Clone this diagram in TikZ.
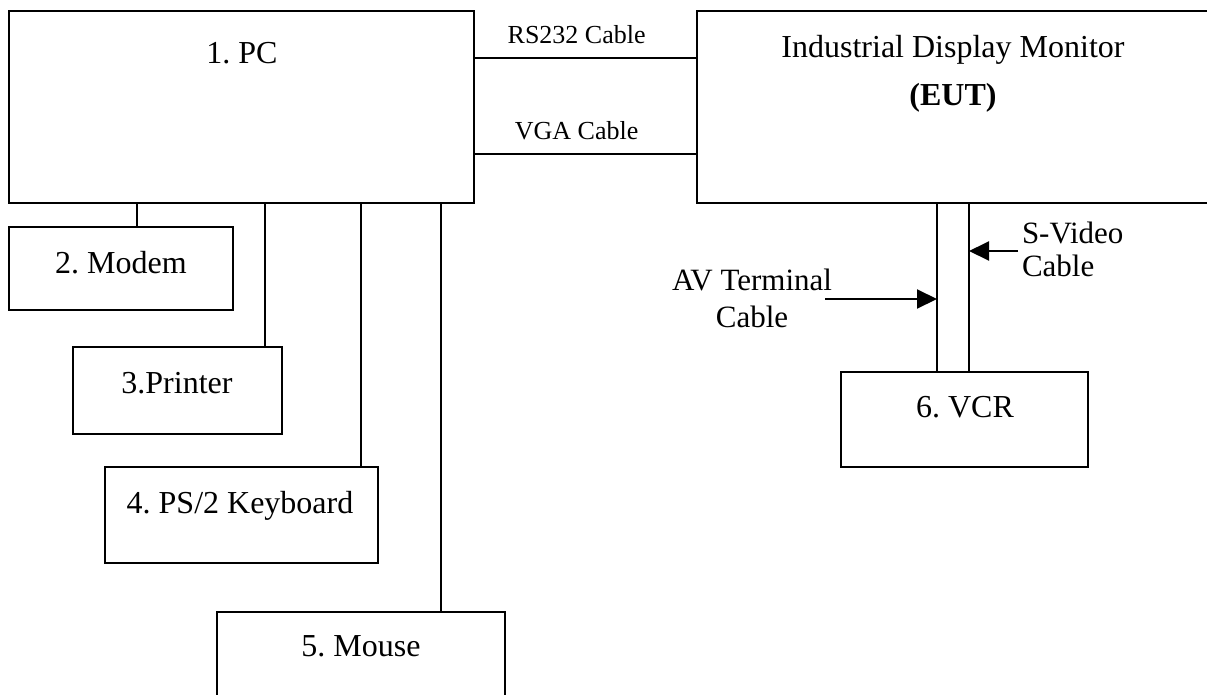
\documentclass[tikz,border=0pt]{standalone}
\usepackage{fontspec}
\setmainfont{Liberation Serif}
\usetikzlibrary{arrows.meta}
\frenchspacing

\begin{document}
\begin{tikzpicture}[x=1pt, y=-1pt, line width=2pt,
    font=\fontsize{32}{38}\selectfont,
    device/.style={draw, rectangle, inner sep=0pt},
    cablelbl/.style={font=\fontsize{26}{30}\selectfont},
    >={Triangle[length=20pt, width=19pt]}]
  \clip (0,0) rectangle (1207,694);
  % units
  \node[device, minimum width=465pt, minimum height=192pt] (pc) at (241.5,107) {};
  \node[device, minimum width=513pt, minimum height=192pt] (mon) at (953.5,107) {};
  \node[device, minimum width=224pt, minimum height=83pt] (modem) at (121,268.5) {};
  \node[device, minimum width=209pt, minimum height=87pt] (printer) at (177.5,390.5) {};
  \node[device, minimum width=273pt, minimum height=96pt] (keyb) at (241.5,515) {};
  \node[device, minimum width=288pt, minimum height=93pt] (mouse) at (361,658.5) {};
  \node[device, minimum width=247pt, minimum height=95pt] (vcr) at (964.5,419.5) {};
  % names
  \node[anchor=base] (pclbl) at (242,63) {1. PC};
  \node[anchor=base] (monlbl) at (953,57) {Industrial Display Monitor};
  \node[anchor=base] (eutlbl) at (953,105) {\textbf{(EUT)}};
  \node[anchor=base] (modemlbl) at (121,273) {2. Modem};
  \node[anchor=base] (printerlbl) at (177,393) {3.Printer};
  \node[anchor=base] (keyblbl) at (240,513) {4. PS/2 Keyboard};
  \node[anchor=base] (mouselbl) at (361,656) {5. Mouse};
  \node[anchor=base] (vcrlbl) at (965,417) {6. VCR};
  % PC to monitor
  \draw ([yshift=-48pt]pc.north east) -- node[cablelbl, above=10pt, pos=.46] (rslbl) {RS232 Cable} ([yshift=-48pt]mon.north west);
  \draw ([yshift=-144pt]pc.north east) -- node[cablelbl, above=10pt, pos=.46] (vgalbl) {VGA Cable} ([yshift=-144pt]mon.north west);
  % PC to peripherals
  \foreach \dev/\dx in {modem/16, printer/87.5, keyb/119.5, mouse/80}
    \draw ([xshift=\dx pt]\dev.north) -- ([xshift=\dx pt]\dev.north |- pc.south);
  % monitor to VCR
  \coordinate (av) at ([xshift=-27.5pt]vcr.north);
  \coordinate (sv) at ([xshift=4.5pt]vcr.north);
  \draw (av) -- (av |- mon.south);
  \draw (sv) -- (sv |- mon.south);
  \node[align=center, inner sep=0pt, font=\fontsize{31}{37}\selectfont] (avlbl) at (752,298) {AV Terminal\\Cable};
  \coordinate (avtail) at (825,299);
  \draw[->] (avtail) -- (avtail -| av);
  \node[align=left, inner sep=0pt, anchor=west, font=\fontsize{31}{33}\selectfont] (svlbl) at (1021,249) {S-Video\\Cable};
  \coordinate (svtail) at (1018,251);
  \draw[->] (svtail) -- (svtail -| sv);
\end{tikzpicture}
\end{document}
